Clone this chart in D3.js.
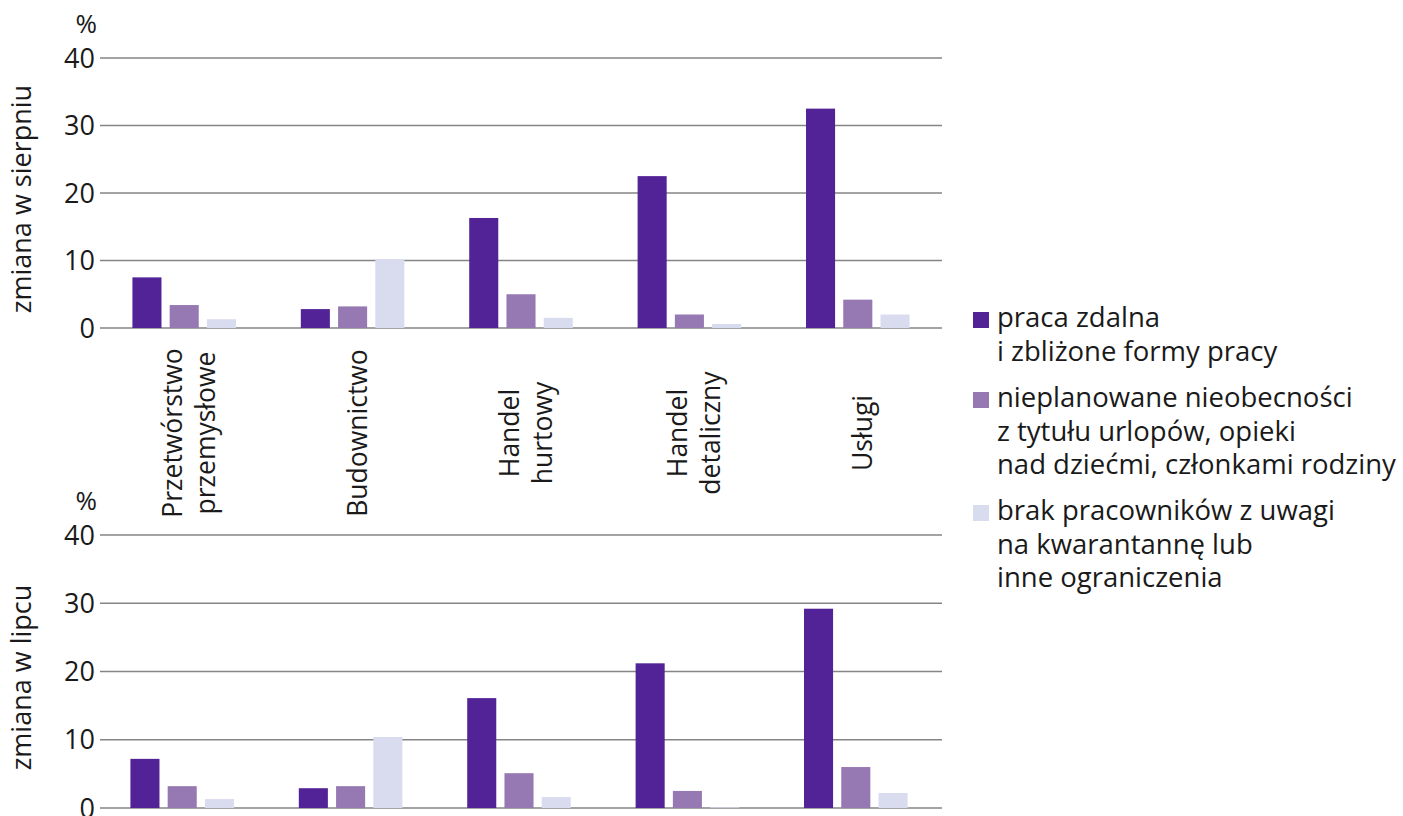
<!doctype html>
<html>
<head>
	<meta charset='utf-8'/>
	<script src="https://d3js.org/d3.v7.min.js"></script>
	<style>
		body { margin: 0; background: #fff; }
		text { font-family: "Open Sans", sans-serif; fill: #1a1a1a; }
	</style>
</head>
<body>
	<script>
		// categories (multi-line labels)
		var categories = [["Przetwórstwo", "przemysłowe"], ["Budownictwo"], ["Handel", "hurtowy"], ["Handel", "detaliczny"], ["Usługi"]];
		var seriesKeys = ["remote", "absence", "shortage"];
		var seriesColors = ["#522396", "#9678b2", "#d9dbef"];
		var legendLabels = [
			["praca zdalna", "i zbliżone formy pracy"],
			["nieplanowane nieobecności", "z tytułu urlopów, opieki", "nad dziećmi, członkami rodziny"],
			["brak pracowników z uwagi", "na kwarantannę lub", "inne ograniczenia"]
		];
		var yTicks = [0, 10, 20, 30, 40];

		// zmiana w sierpniu
		var augRemote = [7.5, 2.8, 16.3, 22.5, 32.5];
		var augAbsence = [3.4, 3.2, 5.0, 2.0, 4.2];
		var augShortage = [1.3, 10.2, 1.5, 0.6, 2.0];
		// zmiana w lipcu
		var julRemote = [7.2, 2.9, 16.1, 21.2, 29.2];
		var julAbsence = [3.2, 3.2, 5.1, 2.5, 6.0];
		var julShortage = [1.3, 10.4, 1.6, 0.1, 2.2];

		var width = 1403, height = 816;
		var left = 100, right = 942;

		var svg = d3.select("body").append("svg")
			.attr("width", width)
			.attr("height", height);

		var panels = [
			{ title: "zmiana w sierpniu", top: 58, bottom: 328, shift: 0, data: [augRemote, augAbsence, augShortage] },
			{ title: "zmiana w lipcu", top: 535, bottom: 808, shift: -2, data: [julRemote, julAbsence, julShortage] }
		];

		var catIdx = categories.map(function(d, i) { return i; });

		panels.forEach(function(p) {
			var y = d3.scaleLinear().domain([0, 40]).range([p.bottom, p.top]);
			var x0 = d3.scaleBand().domain(catIdx).range([left + p.shift, right + p.shift]);
			var x1 = d3.scaleBand().domain(seriesKeys).range([0, x0.bandwidth()])
				.paddingInner(0.22).paddingOuter(0.87);

			var g = svg.append("g");

			// gridlines
			g.selectAll("line.grid")
				.data(yTicks)
				.enter().append("line")
				.attr("class", "grid")
				.attr("x1", left).attr("x2", right)
				.attr("y1", function(d) { return y(d); })
				.attr("y2", function(d) { return y(d); })
				.attr("stroke", "#858585")
				.attr("stroke-width", 1.5);

			// tick labels
			g.selectAll("text.tick")
				.data(yTicks)
				.enter().append("text")
				.attr("class", "tick")
				.attr("x", 95)
				.attr("y", function(d) { return y(d); })
				.attr("dy", "0.36em")
				.attr("text-anchor", "end")
				.style("font-size", "27px")
				.text(function(d) { return d; });

			g.append("text")
				.attr("x", 97)
				.attr("y", p.top - 25)
				.attr("text-anchor", "end")
				.style("font-size", "26px")
				.text("%");

			g.append("text")
				.attr("transform", "translate(31," + ((p.top + p.bottom) / 2 + 6) + ") rotate(-90)")
				.attr("text-anchor", "middle")
				.style("font-size", "27px")
				.text(p.title);

			// bars
			var groups = g.selectAll("g.grp")
				.data(catIdx)
				.enter().append("g")
				.attr("class", "grp")
				.attr("transform", function(i) { return "translate(" + x0(i) + ",0)"; });

			groups.selectAll("rect")
				.data(function(i) {
					return seriesKeys.map(function(k, s) { return { key: k, s: s, v: p.data[s][i] }; });
				})
				.enter().append("rect")
				.attr("x", function(d) { return x1(d.key); })
				.attr("width", x1.bandwidth())
				.attr("y", function(d) { return y(d.v); })
				.attr("height", function(d) { return y(0) - y(d.v); })
				.attr("fill", function(d) { return seriesColors[d.s]; });

			p.x0 = x0;
		});

		// category labels between panels
		var xTop = panels[0].x0;
		var lineStep = 33;
		svg.selectAll("text.cat")
			.data(categories)
			.enter().append("text")
			.attr("class", "cat")
			.attr("text-anchor", "middle")
			.style("font-size", "26.5px")
			.attr("transform", function(d, i) {
				var cx = xTop(i) + xTop.bandwidth() / 2 + 14 - (d.length - 1) * lineStep / 2;
				return "translate(" + cx + ",433) rotate(-90)";
			})
			.selectAll("tspan")
			.data(function(d) { return d; })
			.enter().append("tspan")
			.attr("x", 0)
			.attr("y", function(d, k) { return k * lineStep; })
			.text(function(d) { return d; });

		// legend
		var legendTops = [327, 407, 520];
		var legend = svg.selectAll("g.leg")
			.data(legendLabels)
			.enter().append("g")
			.attr("class", "leg")
			.attr("transform", function(d, i) { return "translate(973," + legendTops[i] + ")"; });

		legend.append("rect")
			.attr("x", 0).attr("y", -15)
			.attr("width", 16).attr("height", 16)
			.attr("fill", function(d, i) { return seriesColors[i]; });

		legend.append("text")
			.style("font-size", "27.5px")
			.selectAll("tspan")
			.data(function(d) { return d; })
			.enter().append("tspan")
			.attr("x", 24)
			.attr("y", function(d, k) { return k * 33.5; })
			.text(function(d) { return d; });
	</script>
</body>
</html>
